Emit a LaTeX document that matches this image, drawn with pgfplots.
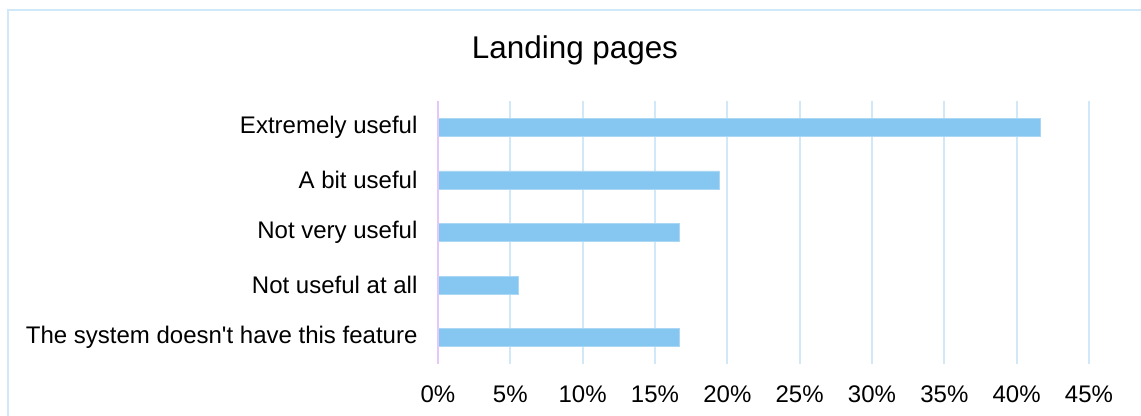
\documentclass[border=0pt]{standalone}
\usepackage{pgfplots}
\pgfplotsset{compat=1.18}
\usepackage{fontspec}
\setmainfont{Liberation Sans}[Ligatures=TeXOff]
\definecolor{barblue}{RGB}{133,199,240}
\definecolor{gridblue}{RGB}{208,232,248}
\definecolor{zeroline}{RGB}{228,200,250}
\begin{document}
\begin{tikzpicture}[x=0.5pt,y=0.5pt]
\useasboundingbox (0,0) rectangle (1141,416);
\draw[gridblue, line width=1.2pt] (8,0) -- (8,406) -- (1141,406);
\node[font=\fontsize{15.7pt}{18pt}\selectfont, anchor=base] at (575,357) {Landing pages};
\begin{axis}[
  at={(219pt,26pt)}, anchor=south west,
  scale only axis, width=325.5pt, height=131.5pt,
  xmin=0, xmax=45, ymin=-0.5, ymax=4.5,
  y dir=reverse,
  xtick={0,5,...,45},
  xticklabel={\pgfmathprintnumber{\tick}\%},
  ytick={0,1,2,3,4},
  yticklabels={Extremely useful, A bit useful, Not very useful, Not useful at all, The system doesn't have this feature},
  xmajorgrids, grid style={gridblue, line width=1pt},
  axis line style={draw=none},
  tick style={draw=none},
  ticklabel style={font=\fontsize{12pt}{14pt}\selectfont, text=black},
  /pgf/number format/assume math mode=true,
  xticklabel style={yshift=-7.5pt},
  yticklabel style={xshift=-2.5pt},
  xbar, bar width=9pt,
  clip=false,
]
\addplot[fill=barblue, draw=barblue!70!white, line width=0.4pt] coordinates {
  (41.67,0) (19.44,1) (16.67,2) (5.56,3) (16.67,4)
};
\draw[zeroline, line width=1.2pt] (axis cs:0,-0.5) -- (axis cs:0,4.5);
\end{axis}
\end{tikzpicture}
\end{document}
